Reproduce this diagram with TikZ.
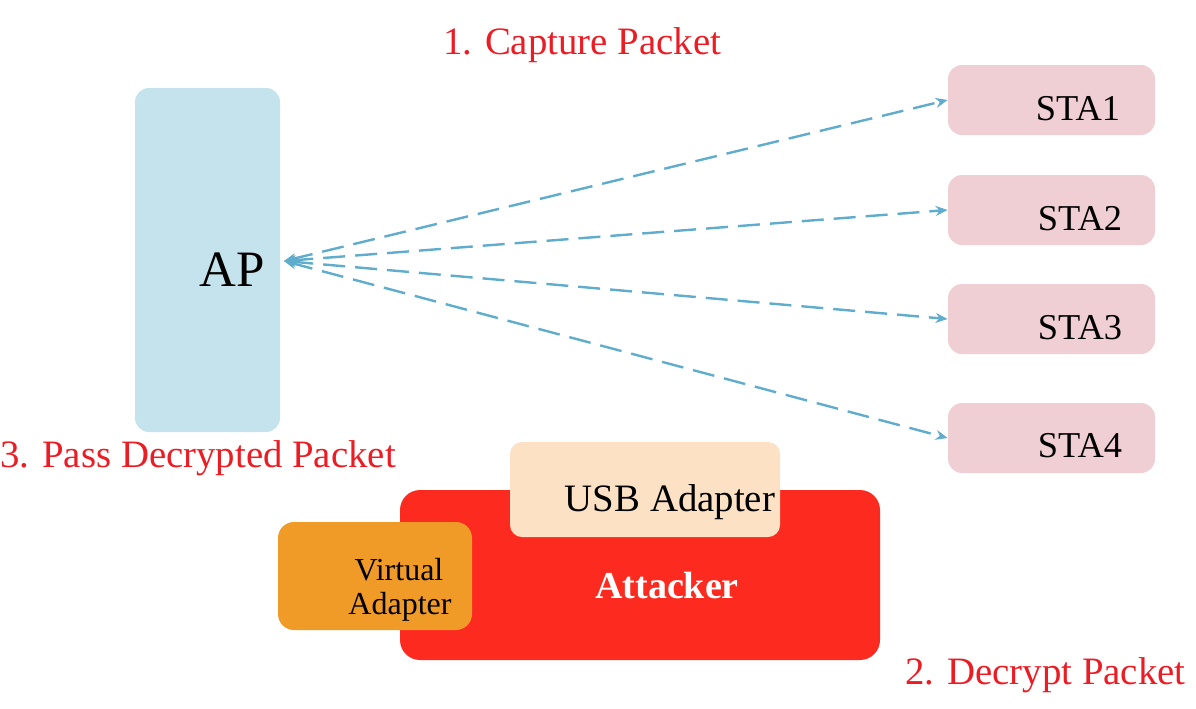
\documentclass[tikz,border=0pt]{standalone}
\usepackage{fontspec}
\setmainfont{Liberation Serif}
\usetikzlibrary{arrows.meta}
\definecolor{apblue}{RGB}{197,227,236}
\definecolor{stapink}{RGB}{240,207,212}
\definecolor{attred}{RGB}{252,42,31}
\definecolor{usbpeach}{RGB}{252,225,196}
\definecolor{virtorange}{RGB}{240,154,40}
\definecolor{linkblue}{RGB}{95,172,204}
\definecolor{lblred}{RGB}{236,28,36}
\tikzset{
  box/.style={draw=none, rounded corners=7pt, inner sep=0pt},
  stabox/.style={box, fill=stapink, minimum width=103.5pt, minimum height=35pt},
  statext/.style={font=\fontsize{18.2pt}{20pt}\selectfont, inner sep=0pt},
  redlbl/.style={text=lblred, font=\fontsize{19.4pt}{22pt}\selectfont, inner sep=0pt},
  link/.style={draw=linkblue, line width=1.2pt, dash pattern=on 11pt off 5pt, {Stealth[length=6pt,width=5pt]}-{Stealth[length=6pt,width=5pt]}}
}
\begin{document}
\begin{tikzpicture}[x=0.5pt,y=-0.5pt]
\useasboundingbox (0,0) rectangle (1196,708);
% AP
\node[box, fill=apblue, minimum width=72.5pt, minimum height=172pt] (ap) at (207.5,260) {};
\node[inner sep=0pt, font=\fontsize{25.5pt}{28pt}\selectfont, anchor=base] (aptext) at (232,286) {AP};
\coordinate (apport) at (284,261);
% STAs
\node[stabox] (sta1) at (1051.5,100) {};
\node[stabox] (sta2) at (1051.5,210) {};
\node[stabox] (sta3) at (1051.5,319) {};
\node[stabox] (sta4) at (1051.5,438) {};
\node[statext, anchor=base] (t1) at (1078,120) {STA1};
\node[statext, anchor=base] (t2) at (1080,230) {STA2};
\node[statext, anchor=base] (t3) at (1080,339) {STA3};
\node[statext, anchor=base] (t4) at (1080,457) {STA4};
% links
\draw[link] (apport) -- (sta1.west);
\draw[link] (apport) -- (sta2.west);
\draw[link] (apport) -- (sta3.west);
\draw[link] (apport) -- (sta4.west);
% attacker
\node[box, rounded corners=10pt, fill=attred, minimum width=240pt, minimum height=85pt] (att) at (640,575) {};
\node[box, rounded corners=6pt, fill=usbpeach, minimum width=135pt, minimum height=47.5pt] (usb) at (645,489.5) {};
\node[box, rounded corners=8pt, fill=virtorange, minimum width=97pt, minimum height=54pt] (virt) at (375,576) {};
\node[inner sep=0pt, anchor=base, font=\fontsize{19.4pt}{22pt}\selectfont] (usbtext) at (670,511) {USB Adapter};
\node[inner sep=0pt, anchor=base, text=white, font=\bfseries\fontsize{19pt}{22pt}\selectfont] (atttext) at (667,598) {Attacker};
\node[inner sep=0pt, anchor=base, font=\fontsize{16pt}{17pt}\selectfont] (virt1) at (399,580) {Virtual};
\node[inner sep=0pt, anchor=base, font=\fontsize{16pt}{17pt}\selectfont] (virt2) at (400,614) {Adapter};
% step labels
\node[redlbl, anchor=base] (l1) at (582,54) {1. Capture Packet};
\node[redlbl, anchor=base west] (l3) at (0,467) {3. Pass Decrypted Packet};
\node[redlbl, anchor=base west] (l2) at (905,684) {2. Decrypt Packet};
\end{tikzpicture}
\end{document}
